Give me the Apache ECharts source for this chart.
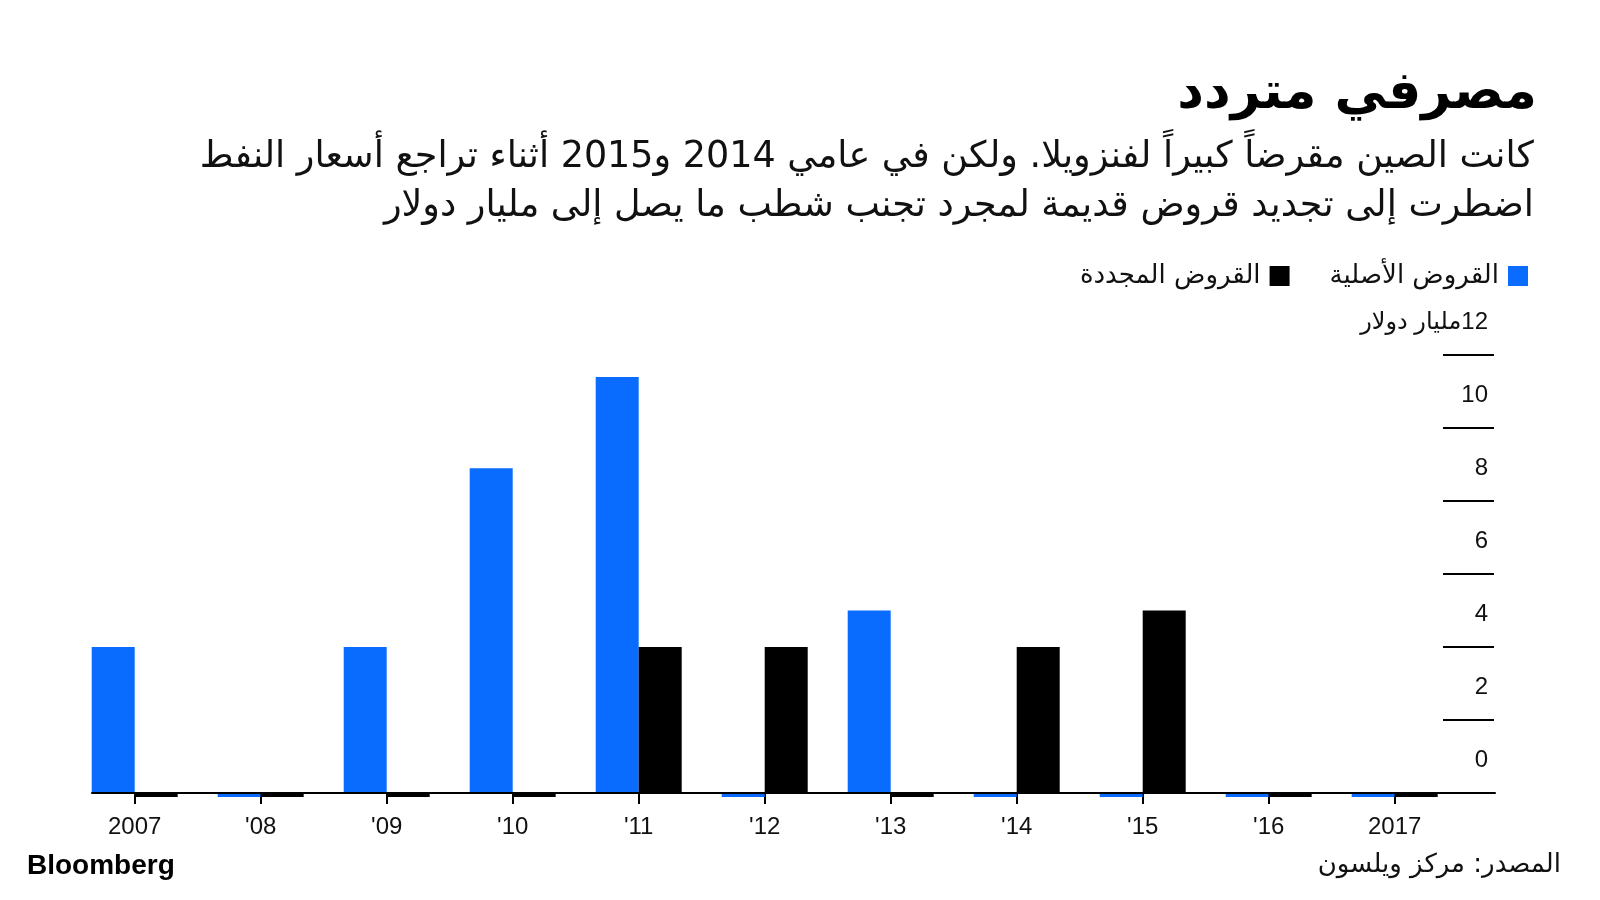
<!DOCTYPE html>
<html><head><meta charset="utf-8">
<script src="https://cdn.jsdelivr.net/npm/echarts@6/dist/echarts.min.js"></script>
<style>html,body{margin:0;padding:0;background:#fff}#c{width:1600px;height:900px}</style>
</head><body><div id="c"></div>
<script>
// ---- data ----
const categories = ['2007', "'08", "'09", "'10", "'11", "'12", "'13", "'14", "'15", "'16", '2017'];
const originalLoans = [4.0, 0, 4.0, 8.9, 11.4, 0, 5.0, 0, 0, 0, 0];
const renewedLoans  = [0, 0, 0, 0, 4.0, 4.0, 0, 4.0, 5.0, 0, 0];
const yTickValues = [0, 2, 4, 6, 8, 10, 12];
const seriesNames = ['القروض الأصلية', 'القروض المجددة'];
const titleText = 'مصرفي متردد';
const subtitleLines = [
  'كانت الصين مقرضاً كبيراً لفنزويلا. ولكن في عامي 2014 و2015 أثناء تراجع أسعار النفط',
  'اضطرت إلى تجديد قروض قديمة لمجرد تجنب شطب ما يصل إلى مليار دولار'
];
const unitLabel = 'مليار دولار';
const sourceText = 'المصدر: مركز ويلسون';
const brandText = 'Bloomberg';
// zero years are drawn in the reference as thin stubs hanging under the axis
const ZERO_STUB = -0.11;

const RLE = '\u202B', PDF = '\u202C';
const rtl = s => RLE + s + PDF;
const BLUE = '#0a6cff';
const AR_FONT = "'DejaVu Sans', sans-serif";
const NUM_FONT = "'Liberation Sans', 'DejaVu Sans', sans-serif";

const toDisplay = arr => arr.map(v => (v === 0 ? ZERO_STUB : v));

const chart = echarts.init(document.getElementById('c'), null, {renderer: 'canvas'});
chart.setOption({
  animation: false,
  backgroundColor: '#fff',
  graphic: [
    {type: 'text', right: 63, top: 68,
     style: {text: rtl(titleText), textAlign: 'right', fill: '#000',
       font: "bold 52px 'DejaVu Sans', sans-serif"}},
    {type: 'text', right: 66, top: 133,
     style: {text: subtitleLines.map(rtl).join('\n'), textAlign: 'right', fill: '#111',
       fontSize: 36.5, lineHeight: 49, fontFamily: AR_FONT}},
    {type: 'text', right: 39, bottom: 22,
     style: {text: rtl(sourceText), textAlign: 'right', fill: '#111',
       fontSize: 26, fontFamily: AR_FONT}},
    {type: 'text', left: 27, bottom: 20,
     style: {text: brandText, fill: '#000', font: "bold 28px 'Liberation Sans', sans-serif"}}
  ],
  legend: {
    right: 67, top: 258, orient: 'horizontal', align: 'right', icon: 'rect',
    itemWidth: 20, itemHeight: 20, itemGap: 40,
    data: [seriesNames[1], seriesNames[0]],
    formatter: n => rtl(n),
    textStyle: {fontSize: 26, color: '#111', fontFamily: AR_FONT, padding: [0, 4, 0, 0]},
    selectedMode: false
  },
  grid: [
    {left: 71.7, right: 142.3, top: 355, bottom: 107},
    {left: 92, right: 105, top: 355, bottom: 107}
  ],
  xAxis: [
    {type: 'category', gridIndex: 0, data: categories,
     axisLine: {show: false},
     axisTick: {show: true, alignWithLabel: true, length: 11, lineStyle: {color: '#000', width: 2}},
     axisLabel: {margin: 22, fontSize: 24, color: '#111', fontFamily: NUM_FONT},
     splitLine: {show: false}},
    {type: 'value', gridIndex: 1, min: 0, max: 1, z: 10,
     axisLine: {show: true, onZero: false, lineStyle: {color: '#000', width: 2}},
     axisTick: {show: false}, axisLabel: {show: false}, splitLine: {show: false}}
  ],
  yAxis: [
    {type: 'value', gridIndex: 0, position: 'right', offset: -14.7,
     min: yTickValues[0], max: yTickValues[yTickValues.length - 1], interval: 2,
     axisLine: {show: false},
     axisTick: {show: true, inside: false, length: 51, lineStyle: {color: '#000', width: 2}},
     splitLine: {show: false},
     axisLabel: {inside: false, margin: 45, align: 'right', verticalAlign: 'bottom',
       lineHeight: 66, fontSize: 24, color: '#111', fontFamily: NUM_FONT,
       formatter: v => (v === yTickValues[yTickValues.length - 1] ? rtl(v + unitLabel) : String(v))}},
    {type: 'value', gridIndex: 1, min: 0, max: 1, show: false}
  ],
  series: [
    {name: seriesNames[0], type: 'bar', xAxisIndex: 0, yAxisIndex: 0,
     data: toDisplay(originalLoans), barWidth: 43, barGap: '0%', clip: false,
     itemStyle: {color: BLUE}, emphasis: {disabled: true}},
    {name: seriesNames[1], type: 'bar', xAxisIndex: 0, yAxisIndex: 0,
     data: toDisplay(renewedLoans), barWidth: 43, barGap: '0%', clip: false,
     itemStyle: {color: '#000'}, emphasis: {disabled: true}}
  ]
});
</script>
</body></html>
